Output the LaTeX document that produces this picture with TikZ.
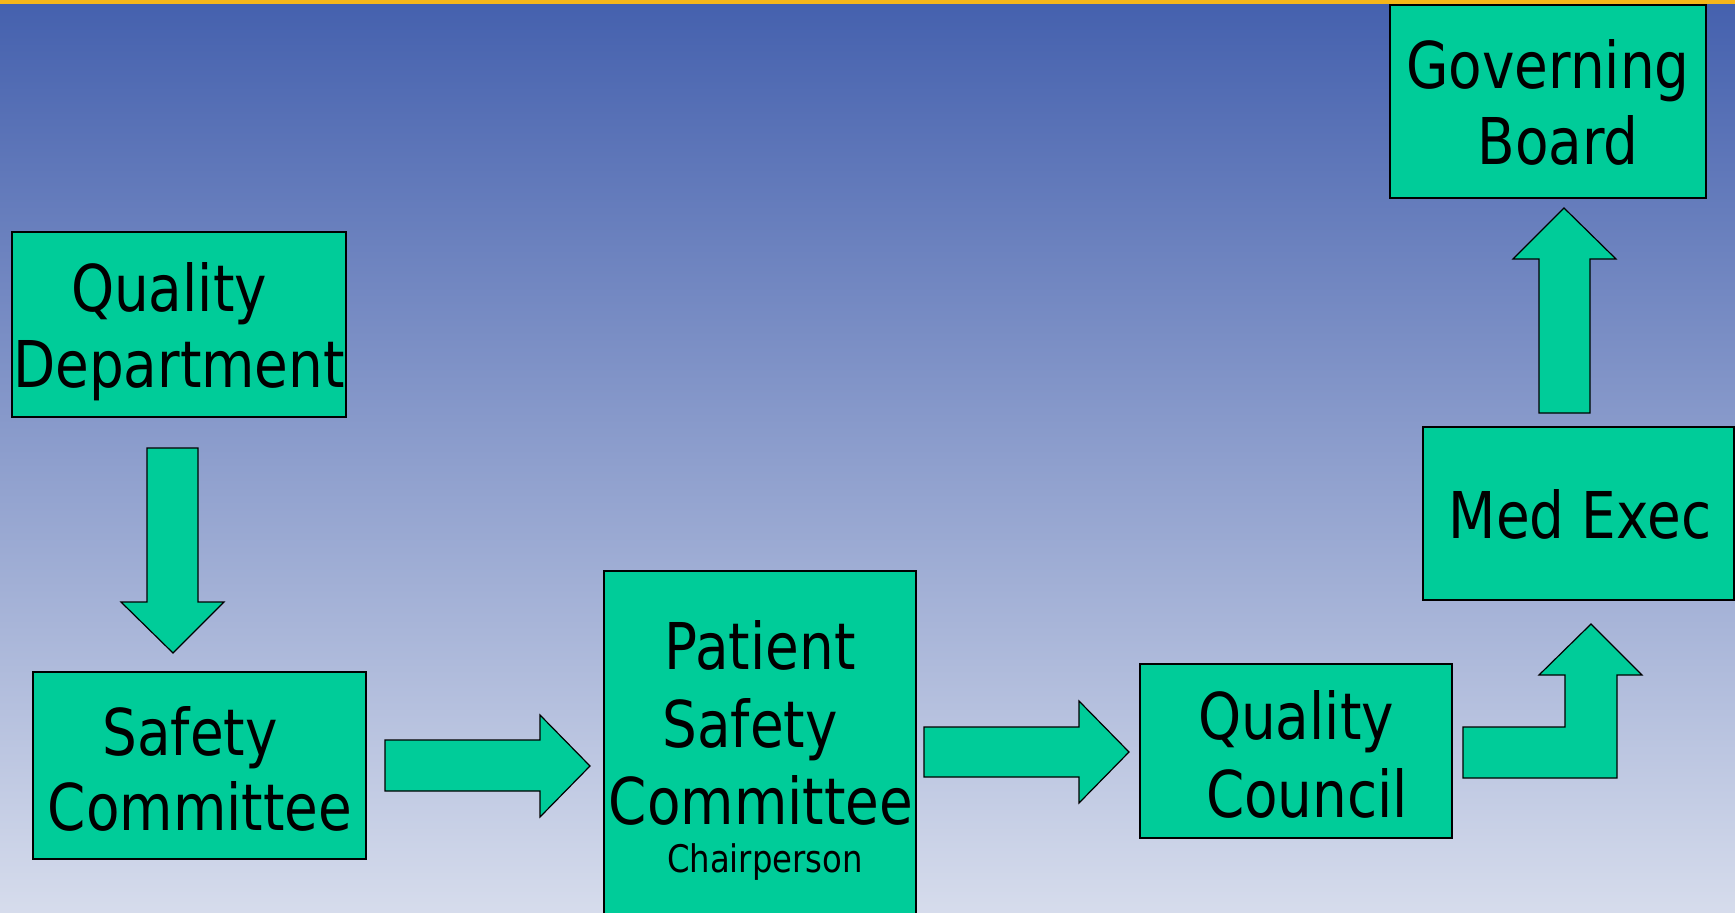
\documentclass[tikz,border=0pt]{standalone}
\usepackage{fontspec}
\setmainfont{DejaVu Sans}[FakeStretch=0.85]
\definecolor{boxfill}{HTML}{00CC99}
\definecolor{barcol}{HTML}{F6B619}
\definecolor{bgtop}{HTML}{4561AE}
\definecolor{bgbot}{HTML}{D6DCEC}
\begin{document}
\begin{tikzpicture}[x=1pt,y=-1pt,
  box/.style={draw=black, line width=1.2pt, fill=boxfill, inner sep=0pt, outer sep=0pt},
  lbl/.style={anchor=base, inner sep=0pt, font=\fontsize{64.5}{77}\selectfont},
  smalllbl/.style={anchor=base, inner sep=0pt, font=\fontsize{38}{45}\selectfont},
  blockarrow/.style={draw=black, line width=1.2pt, fill=boxfill, line join=miter}]
\useasboundingbox (0,0) rectangle (1735,913);
\clip (0,0) rectangle (1735,913);
\shade[top color=bgtop, bottom color=bgbot] (0,4) rectangle (1735,913);
\fill[barcol] (0,0) rectangle (1735,4);

% boxes
\node[box, minimum width=334pt, minimum height=185pt] (qd) at (179,324.5) {};
\node[box, minimum width=333pt, minimum height=187pt] (sc) at (199.5,765.5) {};
\node[box, minimum width=312pt, minimum height=429pt] (psc) at (760,785.5) {};
\node[box, minimum width=312pt, minimum height=174pt] (qc) at (1296,751) {};
\node[box, minimum width=311pt, minimum height=173pt] (me) at (1578.5,513.5) {};
\node[box, minimum width=316pt, minimum height=193pt] (gb) at (1548,101.5) {};

% texts
\node[lbl] (qd1) at (169,311) {Quality};
\node[lbl] (qd2) at (179,387) {Department};
\node[lbl] (sc1) at (190,755) {Safety};
\node[lbl] (sc2) at (200,830) {Committee};
\node[lbl] (psc1) at (760,669) {Patient};
\node[lbl] (psc2) at (750,747) {Safety};
\node[lbl] (psc3) at (761,824) {Committee};
\node[smalllbl] (psc4) at (765,872) {Chairperson};
\node[lbl] (qc1) at (1296,739) {Quality};
\node[lbl] (qc2) at (1307,817) {Council};
\node[lbl] (me1) at (1580,538) {Med Exec};
\node[lbl] (gb1) at (1548,88) {Governing};
\node[lbl] (gb2) at (1558,164) {Board};

% block arrows
\draw[blockarrow] (147,448) -- (198,448) -- (198,602) -- (224,602) -- (173,653) -- (121,602) -- (147,602) -- cycle;
\draw[blockarrow] (385,740) -- (540,740) -- (540,715) -- (590,766) -- (540,817) -- (540,791) -- (385,791) -- cycle;
\draw[blockarrow] (924,727) -- (1079,727) -- (1079,701) -- (1129,752) -- (1079,803) -- (1079,777) -- (924,777) -- cycle;
\draw[blockarrow] (1463,727) -- (1565,727) -- (1565,675) -- (1539,675) -- (1591,624) -- (1642,675) -- (1617,675) -- (1617,778) -- (1463,778) -- cycle;
\draw[blockarrow] (1539,413) -- (1539,259) -- (1513,259) -- (1564,208) -- (1616,259) -- (1590,259) -- (1590,413) -- cycle;
\end{tikzpicture}
\end{document}
